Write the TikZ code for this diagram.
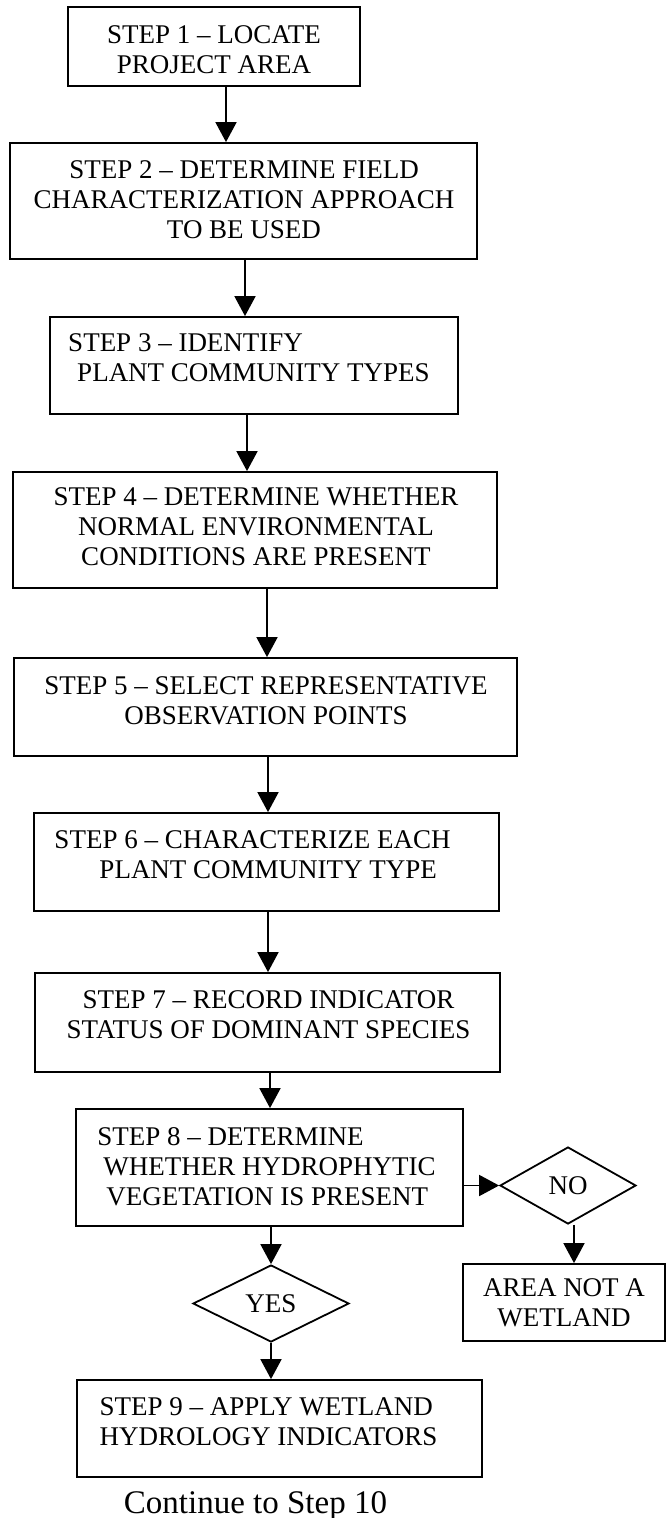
\documentclass[tikz,border=0pt]{standalone}
\usepackage{fontspec}
\setmainfont{Liberation Serif}
\usetikzlibrary{arrows.meta,shapes.geometric}
\begin{document}
\begin{tikzpicture}[x=1pt,y=-1pt,
  box/.style={draw,line width=1.8pt,inner sep=0pt},
  txt/.style={inner sep=0pt,font=\fontsize{27}{30}\selectfont},
  dec/.style={draw,diamond,line width=1.8pt,inner sep=0pt,font=\fontsize{27}{30}\selectfont},
  arr/.style={line width=1.8pt,-{Triangle[length=20pt,width=21pt]}}]
\useasboundingbox (0,0) rectangle (667,1518);
% boxes
\node[box,minimum width=292pt,minimum height=79pt] (b1) at (214,46.5) {};
\node[box,minimum width=467pt,minimum height=116pt] (b2) at (243.5,201) {};
\node[box,minimum width=408pt,minimum height=97pt] (b3) at (254,365.5) {};
\node[box,minimum width=484pt,minimum height=116pt] (b4) at (255,530) {};
\node[box,minimum width=503pt,minimum height=98pt] (b5) at (265.5,707) {};
\node[box,minimum width=465pt,minimum height=98pt] (b6) at (266.5,862) {};
\node[box,minimum width=465pt,minimum height=99pt] (b7) at (267.5,1022.5) {};
\node[box,minimum width=387pt,minimum height=117pt] (b8) at (269.5,1167.5) {};
\node[box,minimum width=405pt,minimum height=97pt] (b9) at (279.5,1428.5) {};
\node[box,txt,minimum width=202pt,minimum height=77pt,align=center] (area) at (564,1302.5) {AREA NOT A\\WETLAND};
\node[dec,minimum width=156pt,minimum height=77pt] (yes) at (271,1303.5) {YES};
\node[dec,minimum width=136pt,minimum height=77pt] (no) at (568,1185.5) {NO};
% texts
\node[txt,align=center] (t1) at (214,50) {STEP 1 – LOCATE\\PROJECT AREA};
\node[txt,align=center] (t2) at (244,200) {STEP 2 – DETERMINE FIELD\\CHARACTERIZATION APPROACH\\TO BE USED};
\node[txt,align=left] (t3) at (249,358) {STEP 3 – IDENTIFY\\\hspace*{9pt}PLANT COMMUNITY TYPES};
\node[txt,align=center] (t4) at (256,527) {STEP 4 – DETERMINE WHETHER\\NORMAL ENVIRONMENTAL\\CONDITIONS ARE PRESENT};
\node[txt,align=center] (t5) at (266,701) {STEP 5 – SELECT REPRESENTATIVE\\OBSERVATION POINTS};
\node[txt,align=left] (t6) at (252.5,855) {STEP 6 – CHARACTERIZE EACH\\\hspace*{45pt}PLANT COMMUNITY TYPE};
\node[txt,align=center] (t7) at (268.5,1015) {STEP 7 – RECORD INDICATOR\\STATUS OF DOMINANT SPECIES};
\node[txt,align=left] (t8) at (266.5,1167) {STEP 8 – DETERMINE\\\hspace*{6pt}WHETHER HYDROPHYTIC\\\hspace*{9pt}VEGETATION IS PRESENT};
\node[txt,align=left] (t9) at (268.5,1422) {STEP 9 – APPLY WETLAND\\HYDROLOGY INDICATORS};
\node[inner sep=0pt,anchor=base,font=\fontsize{33}{36}\selectfont] (cont) at (255.5,1513) {Continue to Step 10};
% arrows
\draw[arr] ([xshift=12pt]b1.south) -- ([xshift=12pt]b1.south |- b2.north);
\draw[arr] ([xshift=1.5pt]b2.south) -- ([xshift=1.5pt]b2.south |- b3.north);
\draw[arr] ([xshift=-7pt]b3.south) -- ([xshift=-7pt]b3.south |- b4.north);
\draw[arr] ([xshift=12pt]b4.south) -- ([xshift=12pt]b4.south |- b5.north);
\draw[arr] ([xshift=2.5pt]b5.south) -- ([xshift=2.5pt]b5.south |- b6.north);
\draw[arr] ([xshift=1.5pt]b6.south) -- ([xshift=1.5pt]b6.south |- b7.north);
\draw[arr] ([xshift=2.5pt]b7.south) -- ([xshift=2.5pt]b7.south |- b8.north);
\draw[arr] (b8.south -| yes.north) -- (yes.north);
\draw[arr] (yes.south) -- (yes.south |- b9.north);
\draw[arr] (no.west -| b8.east) -- (no.west);
\draw[arr] ([xshift=6pt]no.south) -- ([xshift=6pt]no.south |- area.north);
\end{tikzpicture}
\end{document}
